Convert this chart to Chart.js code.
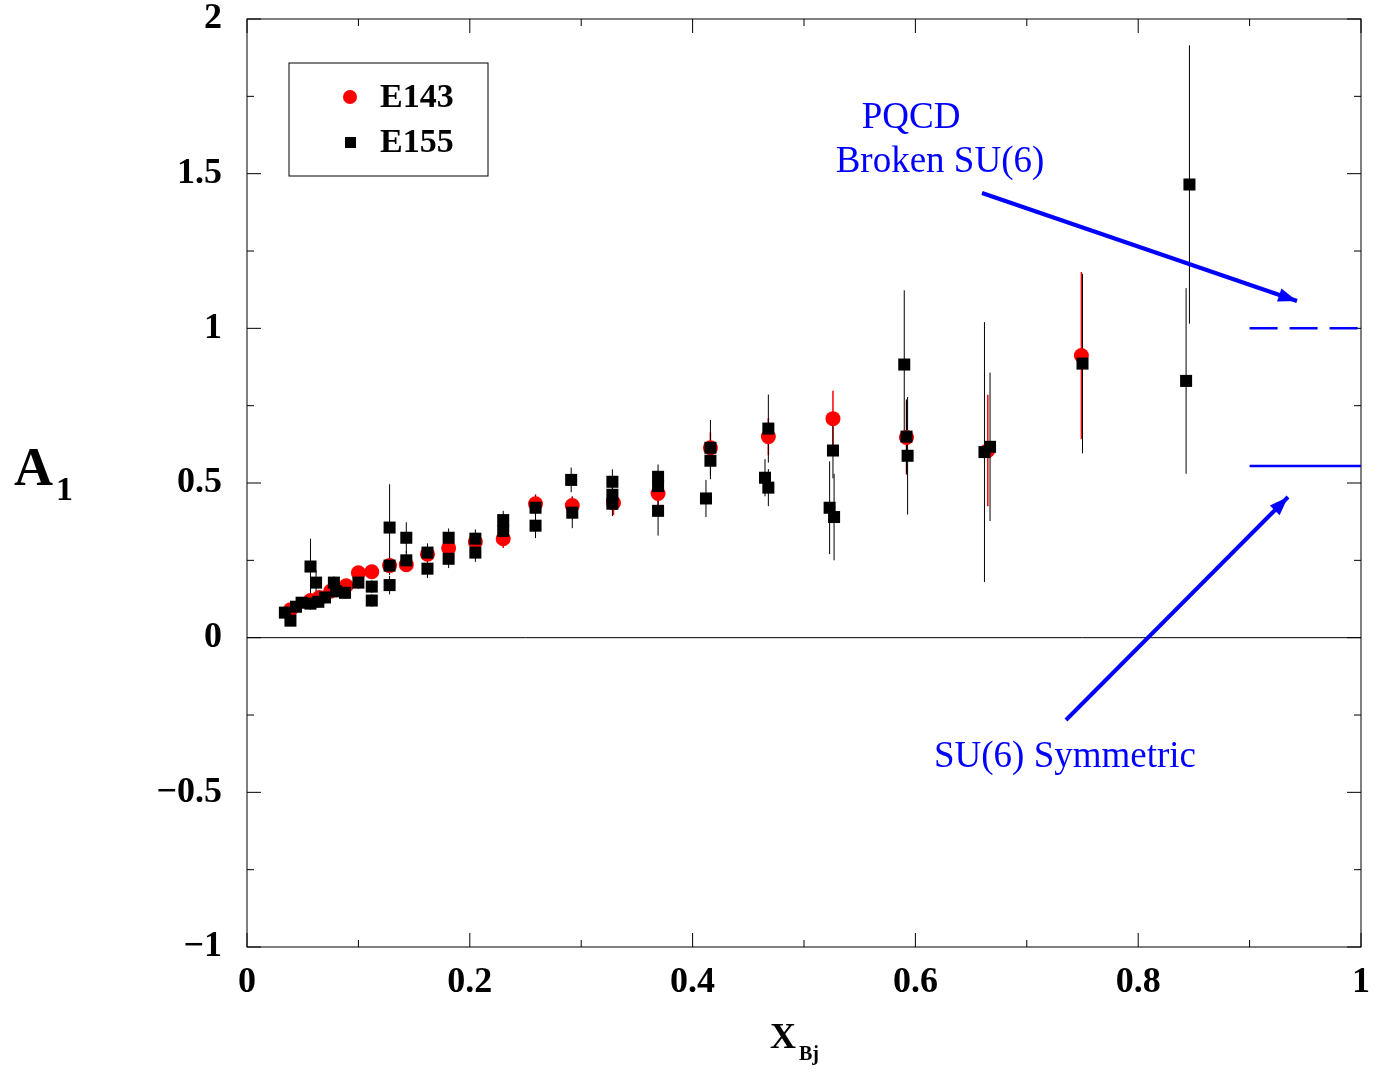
<!DOCTYPE html>
<html><head><meta charset="utf-8">
<script src="https://cdn.jsdelivr.net/npm/chart.js@4"></script>
<style>body{margin:0;background:#fff}#w{width:1374px;height:1073px}</style></head>
<body><div id="w"><canvas id="c"></canvas></div>
<script>
const e143X=[0.039,0.057,0.065,0.075,0.089,0.10,0.112,0.128,0.143,0.162,0.181,0.205,0.23,0.259,0.292,0.329,0.369,0.416,0.468,0.526,0.592,0.665,0.749];
const e143Y=[0.09,0.12,0.13,0.15,0.168,0.21,0.213,0.233,0.236,0.27,0.29,0.31,0.32,0.433,0.427,0.436,0.466,0.614,0.65,0.708,0.647,0.605,0.912];
const e143E=[0.02,0.02,0.02,0.02,0.02,0.02,0.02,0.02,0.02,0.02,0.03,0.03,0.03,0.03,0.03,0.04,0.04,0.05,0.06,0.09,0.12,0.18,0.27];
const e155X=[0.034,0.039,0.044,0.049,0.057,0.057,0.062,0.064,0.07,0.078,0.08,0.088,0.10,0.112,0.112,0.128,0.128,0.128,0.143,0.143,0.162,0.162,0.181,0.181,0.205,0.205,0.23,0.23,0.259,0.259,0.291,0.292,0.328,0.328,0.328,0.369,0.369,0.369,0.412,0.416,0.416,0.465,0.468,0.468,0.523,0.526,0.527,0.59,0.592,0.593,0.662,0.667,0.75,0.843,0.846];
const e155Y=[0.081,0.055,0.10,0.113,0.23,0.11,0.178,0.116,0.13,0.178,0.15,0.145,0.178,0.165,0.12,0.356,0.233,0.17,0.323,0.25,0.275,0.223,0.323,0.255,0.32,0.275,0.38,0.345,0.42,0.362,0.51,0.404,0.504,0.462,0.433,0.52,0.49,0.41,0.45,0.614,0.572,0.517,0.676,0.485,0.42,0.605,0.39,0.883,0.65,0.588,0.60,0.617,0.886,0.83,1.465];
const e155E=[0.015,0.015,0.015,0.015,0.09,0.02,0.04,0.02,0.02,0.02,0.02,0.02,0.02,0.02,0.02,0.14,0.03,0.03,0.05,0.03,0.03,0.03,0.03,0.03,0.03,0.03,0.03,0.03,0.04,0.04,0.04,0.05,0.04,0.04,0.04,0.04,0.05,0.08,0.06,0.09,0.06,0.06,0.11,0.06,0.15,0.09,0.14,0.24,0.12,0.19,0.42,0.24,0.29,0.30,0.45];
const xTicks=[0,0.2,0.4,0.6,0.8,1];
const yTicks=[-1,-0.5,0,0.5,1,1.5,2];
const yLabels=['\u22121','\u22120.5','0','0.5','1','1.5','2'];
const su6Sym=0.555, pqcd=1.0;

const ser="'Liberation Serif','Times New Roman',serif";
const mk=(xs,ys)=>xs.map((x,i)=>({x,y:ys[i]}));
const deco={id:'deco',
beforeDatasetsDraw(ch){
  const c=ch.ctx,xs=ch.scales.x,ys=ch.scales.y,a=ch.chartArea;
  c.save();
  c.strokeStyle='#000';c.lineWidth=1;
  c.beginPath();c.moveTo(a.left,ys.getPixelForValue(0));c.lineTo(a.right,ys.getPixelForValue(0));c.stroke();
  const eb=(X,Y,E,col,w)=>{c.strokeStyle=col;c.lineWidth=w;X.forEach((x,i)=>{const px=xs.getPixelForValue(x);c.beginPath();c.moveTo(px,ys.getPixelForValue(Y[i]-E[i]));c.lineTo(px,ys.getPixelForValue(Y[i]+E[i]));c.stroke();});};
  eb(e143X,e143Y,e143E,'#f00',1.5);
  eb(e155X,e155Y,e155E,'#000',1);
  c.restore();
},
afterDraw(ch){
  const c=ch.ctx,xs=ch.scales.x,ys=ch.scales.y,a=ch.chartArea;
  c.save();
  c.strokeStyle='#000';c.lineWidth=1;c.strokeRect(a.left,a.top,a.right-a.left,a.bottom-a.top);
  for(let v=0;v<=1.0001;v+=0.1){const px=xs.getPixelForValue(v);const L=(Math.round(v*10)%2==0)?14:7;
    c.beginPath();c.moveTo(px,a.bottom);c.lineTo(px,a.bottom-L);c.moveTo(px,a.top);c.lineTo(px,a.top+L);c.stroke();}
  for(let v=-1;v<=2.0001;v+=0.25){const py=ys.getPixelForValue(v);const L=(Math.round(v*4)%2==0)?14:7;
    c.beginPath();c.moveTo(a.left,py);c.lineTo(a.left+L,py);c.moveTo(a.right,py);c.lineTo(a.right-L,py);c.stroke();}
  c.fillStyle='#000';c.font='bold 36px '+ser;
  c.textAlign='center';c.textBaseline='middle';
  xTicks.forEach(v=>c.fillText(String(v),xs.getPixelForValue(v),983));
  c.textAlign='right';
  yTicks.forEach((v,i)=>c.fillText(yLabels[i],222,ys.getPixelForValue(v)));
  c.textAlign='left';c.textBaseline='alphabetic';
  c.font='bold 36px '+ser;c.fillText('X',770,1048);
  c.font='bold 20px '+ser;c.fillText('Bj',799,1060);
  c.font='bold 54px '+ser;c.fillText('A',14,485);
  c.font='bold 34px '+ser;c.fillText('1',56,500);
  c.lineWidth=1;c.strokeRect(289,63,199,113);
  c.fillStyle='#f00';c.beginPath();c.arc(350,97,7,0,Math.PI*2);c.fill();
  c.fillStyle='#000';c.fillRect(345,137,11,11);
  c.font='bold 34px '+ser;c.textBaseline='middle';
  c.fillText('E143',380,98);c.fillText('E155',380,143);
  c.strokeStyle='#00f';c.lineWidth=2.5;
  c.beginPath();c.moveTo(xs.getPixelForValue(0.9),ys.getPixelForValue(su6Sym));c.lineTo(a.right,ys.getPixelForValue(su6Sym));c.stroke();
  c.setLineDash([28,12]);
  c.beginPath();c.moveTo(xs.getPixelForValue(0.9),ys.getPixelForValue(pqcd));c.lineTo(a.right,ys.getPixelForValue(pqcd));c.stroke();
  c.setLineDash([]);
  const arrow=(x1,y1,x2,y2)=>{c.lineWidth=4;c.beginPath();c.moveTo(x1,y1);c.lineTo(x2,y2);c.stroke();
    const ang=Math.atan2(y2-y1,x2-x1),h=20;c.fillStyle='#00f';c.beginPath();c.moveTo(x2,y2);
    c.lineTo(x2-h*Math.cos(ang-0.35),y2-h*Math.sin(ang-0.35));c.lineTo(x2-h*Math.cos(ang+0.35),y2-h*Math.sin(ang+0.35));c.closePath();c.fill();};
  arrow(982,193,1297,301);arrow(1066,720,1288,497);
  c.fillStyle='#00f';c.font='37px '+ser;c.textAlign='center';
  c.fillText('PQCD',911,118);c.fillText('Broken SU(6)',940,162);
  c.fillText('SU(6) Symmetric',1065,757);
  c.restore();
}};
new Chart(document.getElementById('c'),{type:'scatter',
data:{datasets:[
 {label:'E143',order:2,data:mk(e143X,e143Y),pointStyle:'circle',pointRadius:7.5,backgroundColor:'#f00',borderWidth:0},
 {label:'E155',order:1,data:mk(e155X,e155Y),pointStyle:'rect',pointRadius:8.5,backgroundColor:'#000',borderWidth:0}]},
options:{responsive:true,maintainAspectRatio:false,animation:false,
 layout:{padding:{top:19,right:13,left:0,bottom:0}},
 plugins:{legend:{display:false},tooltip:{enabled:false}},
 scales:{
  x:{type:'linear',min:0,max:1,ticks:{display:false},grid:{display:false},border:{display:false},afterFit(s){s.height=126;}},
  y:{type:'linear',min:-1,max:2,ticks:{display:false},grid:{display:false},border:{display:false},afterFit(s){s.width=247;}}}},
plugins:[deco]});
</script></body></html>
